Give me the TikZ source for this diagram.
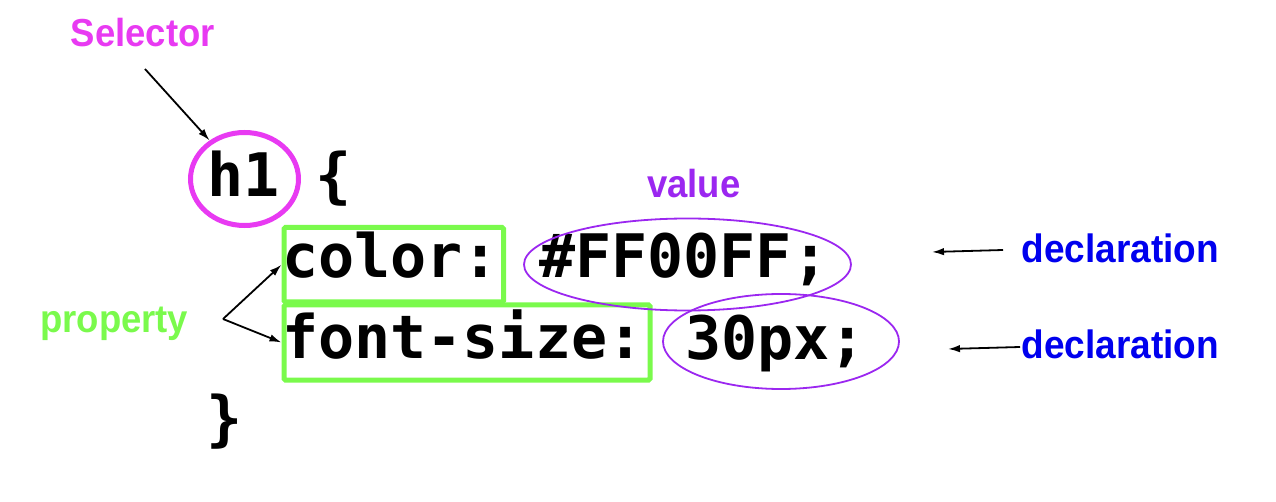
\documentclass[tikz,border=0pt]{standalone}
\usepackage{fontspec}
\usepackage{graphicx}
\setmainfont{Liberation Sans}
\newfontfamily\codefont{DejaVu Sans Mono}
\usetikzlibrary{shapes.geometric,arrows.meta}
\definecolor{selmag}{HTML}{E83AF2}
\definecolor{propgreen}{HTML}{7AFA4C}
\definecolor{valpurple}{HTML}{9B27F0}
\definecolor{declblue}{HTML}{0000EE}
\newcommand{\tallbox}[1]{\scalebox{1}[1.07]{#1}}
\tikzset{
  code/.style={anchor=base west, inner sep=0pt, font=\codefont\bfseries\fontsize{60}{60}\selectfont},
  lbl/.style={anchor=base west, inner sep=0pt, font=\bfseries\fontsize{36.5}{36.5}\selectfont},
  arr/.style={-{Latex[length=12pt,width=7.5pt]}, line width=1.8pt, black},
  propbox/.style={draw=propgreen, line width=5pt, rounded corners=1.5pt, rectangle, inner sep=0pt},
  valell/.style={draw=valpurple, line width=1.8pt, ellipse, inner sep=0pt},
}
\begin{document}
\begin{tikzpicture}[x=1pt,y=-1pt]
\useasboundingbox (0,0) rectangle (1276,502);
% labels
\node[lbl, text=selmag] (sel) at (70.5,47) {\tallbox{Selector}};
\node[lbl, text=valpurple] (val) at (647,198) {\tallbox{value}};
\node[lbl, text=propgreen] (prop) at (40,332) {\tallbox{property}};
\node[lbl, text=declblue, font=\bfseries\fontsize{37}{37}\selectfont] (decl1) at (1021.5,263) {\tallbox{declaration}};
\node[lbl, text=declblue, font=\bfseries\fontsize{37}{37}\selectfont] (decl2) at (1021.5,358) {\tallbox{declaration}};
% code
\node[code] (h1) at (207,197) {h1};
\node[code] (lbr) at (315,197) {\{};
\node[code] (pcolor) at (282,278) {color:};
\node[code] (vcolor) at (539,278) {\#FF00FF;};
\node[code] (psize) at (282,358) {font-size:};
\node[code] (vsize) at (685,359) {30px;};
\node[code] (rbr) at (206,439) {\}};
% highlight shapes
\node[draw=selmag, line width=5pt, ellipse, inner sep=0pt, minimum width=108pt, minimum height=93pt] (selE) at (244.5,179) {};
\node[propbox, minimum width=219.5pt, minimum height=74.5pt] (pbox1) at (393.75,264.75) {};
\node[propbox, minimum width=366pt, minimum height=75pt] (pbox2) at (467,342.5) {};
\node[valell, minimum width=327pt, minimum height=92pt] (vell1) at (687.5,264.5) {};
\node[valell, minimum width=236pt, minimum height=95pt] (vell2) at (781,341.5) {};
% connectors
\coordinate (selTail) at (145,69);
\draw[arr] (selTail) -- (selE);
\coordinate (fork) at (223,319);
\draw[arr] (fork) -- (pbox1.west);
\draw[arr] (fork) -- (pbox2.west);
\coordinate (d1tail) at (1003,250);
\coordinate (d1head) at (932,252);
\draw[arr] (d1tail) -- (d1head);
\coordinate (d2tail) at (1020,347);
\coordinate (d2head) at (948,349);
\draw[arr] (d2tail) -- (d2head);
\end{tikzpicture}
\end{document}
